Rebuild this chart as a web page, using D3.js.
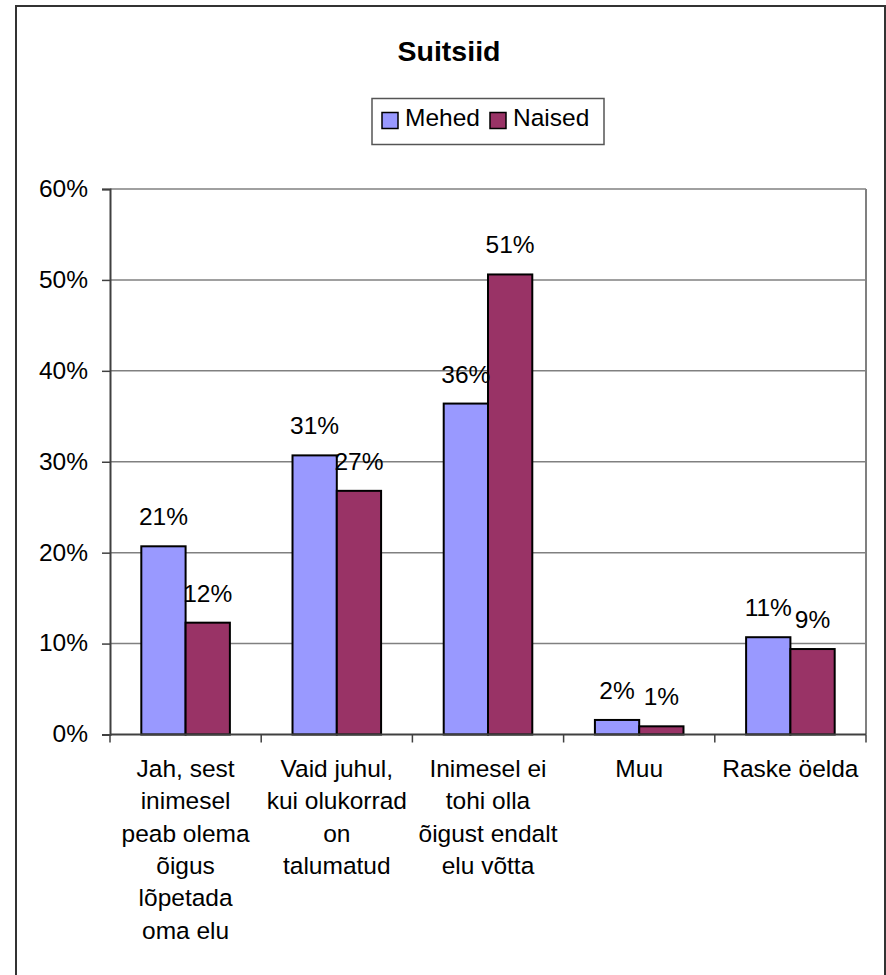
<!DOCTYPE html>
<html>
<head>
<meta charset="utf-8">
<script src="https://cdn.jsdelivr.net/npm/d3@7"></script>
<style>
  html, body { margin: 0; padding: 0; background: #fff; }
  svg { display: block; font-family: "Liberation Sans", Arial, sans-serif; }
</style>
</head>
<body>
<svg id="chart" width="886" height="975"></svg>
<script>
const title = "Suitsiid";
const categories = ["Jah", "Vaid", "Inimesel", "Muu", "Raske"];
const categoryLines = [
  ["Jah, sest", "inimesel", "peab olema", "õigus", "lõpetada", "oma elu"],
  ["Vaid juhul,", "kui olukorrad", "on", "talumatud"],
  ["Inimesel ei", "tohi olla", "õigust endalt", "elu võtta"],
  ["Muu"],
  ["Raske öelda"]
];
const seriesNames = ["Mehed", "Naised"];
const mehed = [0.207, 0.307, 0.364, 0.016, 0.107];
const naised = [0.123, 0.268, 0.506, 0.009, 0.094];
const yTicks = [0, 0.1, 0.2, 0.3, 0.4, 0.5, 0.6];
const colors = ["#9999FF", "#993366"];

(function () {
const svg = d3.select("#chart");
const fontSize = 24.5;

// Outer frame
svg.append("rect").attr("x", 16).attr("y", 6).attr("width", 869).attr("height", 990)
  .attr("fill", "none").attr("stroke", "#333").attr("stroke-width", 2);

const pLeft = 110, pRight = 866, pTop = 189, pBottom = 734.5;
const x0 = d3.scaleBand().domain(categories).range([pLeft, pRight]).paddingInner(0).paddingOuter(0);
const x1 = d3.scaleBand().domain(seriesNames).range([0, x0.bandwidth()]).paddingInner(0).paddingOuter(0.707);
const y = d3.scaleLinear().domain([0, 0.6]).range([pBottom, pTop]);
const pct = d3.format(".0%");

// Title
svg.append("text").attr("x", 449).attr("y", 61).attr("text-anchor", "middle")
  .attr("font-weight", "bold").attr("font-size", 28.5).text(title);

// Legend
const lg = svg.append("g");
lg.append("rect").attr("x", 372).attr("y", 98.5).attr("width", 232).attr("height", 46)
  .attr("fill", "#fff").attr("stroke", "#555").attr("stroke-width", 1.5);
const legendX = [382, 490];
seriesNames.forEach((s, i) => {
  lg.append("rect").attr("x", legendX[i]).attr("y", 112.5).attr("width", 16).attr("height", 16)
    .attr("fill", colors[i]).attr("stroke", "#000").attr("stroke-width", 1.5);
  lg.append("text").attr("x", legendX[i] + 23).attr("y", 126).attr("font-size", fontSize).text(s);
});

// Gridlines
svg.append("g").selectAll("line").data(yTicks.filter(t => t > 0)).join("line")
  .attr("x1", pLeft).attr("x2", pRight).attr("y1", d => y(d)).attr("y2", d => y(d))
  .attr("stroke", "#808080").attr("stroke-width", 1.5);
// Plot right border
svg.append("line").attr("x1", pRight).attr("x2", pRight).attr("y1", pTop).attr("y2", pBottom)
  .attr("stroke", "#808080").attr("stroke-width", 2);

// Bars
const data = categories.map((c, i) => ({ cat: c, vals: [mehed[i], naised[i]] }));
const groups = svg.append("g").selectAll("g").data(data).join("g")
  .attr("transform", d => `translate(${x0(d.cat)},0)`);
groups.selectAll("rect").data(d => d.vals.map((v, j) => ({ s: seriesNames[j], v, j }))).join("rect")
  .attr("x", d => x1(d.s)).attr("width", x1.bandwidth())
  .attr("y", d => y(d.v)).attr("height", d => pBottom - y(d.v))
  .attr("fill", d => colors[d.j]).attr("stroke", "#000").attr("stroke-width", 2);
groups.selectAll("text").data(d => d.vals.map((v, j) => ({ s: seriesNames[j], v, j }))).join("text")
  .attr("x", d => x1(d.s) + x1.bandwidth() / 2).attr("y", d => y(d.v) - 21)
  .attr("text-anchor", "middle").attr("font-size", fontSize).text(d => pct(d.v));

// Y axis
const yAxis = svg.append("g").attr("transform", `translate(${pLeft},0)`)
  .call(d3.axisLeft(y).tickValues(yTicks).tickFormat(pct).tickSize(8).tickPadding(14));
yAxis.select(".domain").attr("stroke", "#404040").attr("stroke-width", 2);
yAxis.selectAll(".tick line").attr("stroke", "#404040").attr("stroke-width", 1.5);
yAxis.selectAll(".tick text").attr("font-size", fontSize).attr("font-family", "Liberation Sans, Arial, sans-serif")
  .attr("fill", "#000").attr("dy", "0.3em");

// X axis
svg.append("line").attr("x1", pLeft).attr("x2", pRight).attr("y1", pBottom).attr("y2", pBottom)
  .attr("stroke", "#404040").attr("stroke-width", 2);
const bounds = categories.map(c => x0(c)).concat([pRight]);
svg.append("g").selectAll("line").data(bounds).join("line")
  .attr("x1", d => d).attr("x2", d => d).attr("y1", pBottom).attr("y2", pBottom + 8)
  .attr("stroke", "#404040").attr("stroke-width", 1.5);

// Category labels
const lab = svg.append("g").selectAll("text").data(categories).join("text")
  .attr("text-anchor", "middle").attr("font-size", fontSize);
lab.each(function (c, i) {
  const t = d3.select(this);
  categoryLines[i].forEach((ln, k) => {
    t.append("tspan").attr("x", x0(c) + x0.bandwidth() / 2).attr("y", 777 + k * 32.3).text(ln);
  });
});
})();
</script>
</body>
</html>
